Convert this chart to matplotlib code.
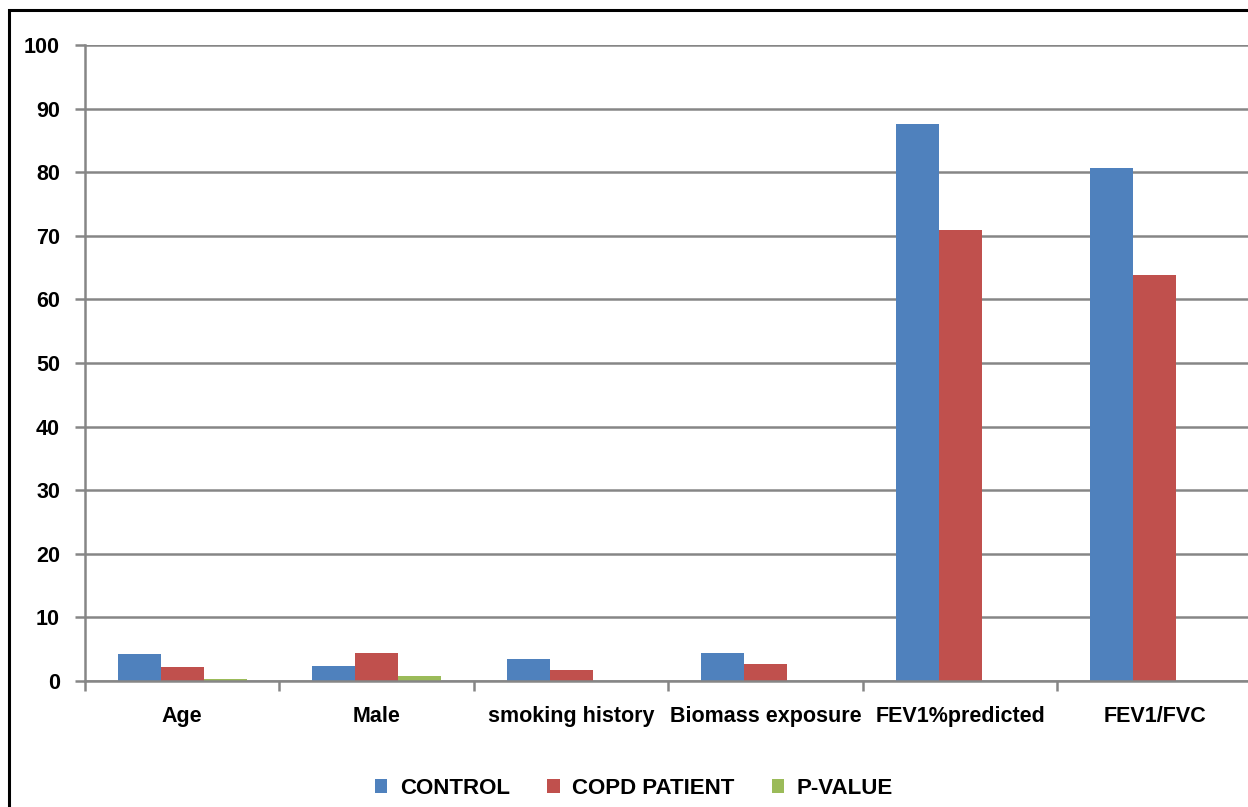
import numpy as np
import matplotlib.pyplot as plt
from matplotlib.patches import Rectangle

categories = ['Age', 'Male', 'smoking history', 'Biomass exposure', 'FEV1%predicted', 'FEV1/FVC']
control = [4.25, 2.4, 3.4, 4.4, 87.6, 80.7]
copd = [2.25, 4.35, 1.75, 2.65, 70.9, 63.8]
p_value = [0.25, 0.85, 0, 0, 0, 0]

series_names = ['CONTROL', 'COPD PATIENT', 'P-VALUE']
colors = ['#4F81BD', '#C0504D', '#9BBB59']

plt.rcParams['font.family'] = ['Liberation Sans', 'DejaVu Sans']

fig = plt.figure(figsize=(12.48, 8.07), dpi=100)
ax = fig.add_axes([0.0681, 0.1561, 0.9349, 0.7881])

x = np.arange(len(categories))
w = 0.221
grid_c = '#868686'

for i, vals in enumerate([control, copd, p_value]):
    ax.bar(x + (i - 1) * w, vals, width=w, color=colors[i], label=series_names[i], zorder=3)

ax.set_xlim(-0.5, len(categories) - 0.5)
ax.set_ylim(0, 100)
ax.set_yticks(range(0, 101, 10))
ax.yaxis.grid(True, color=grid_c, linewidth=1.8, zorder=0)

ax.set_xticks(x)
ax.set_xticklabels(categories, fontsize=15.5, fontweight='bold')
ax.set_xticks(np.arange(-0.5, len(categories) + 0.5, 1), minor=True)
ax.tick_params(axis='x', which='major', length=0, pad=18)
ax.tick_params(axis='x', which='minor', length=7, width=1.8, color=grid_c)
ax.tick_params(axis='y', length=7, width=1.8, color=grid_c, labelsize=15.5, pad=11)
for lab in ax.get_yticklabels():
    lab.set_fontweight('bold')

for s in ['top', 'right']:
    ax.spines[s].set_visible(False)
for s in ['left', 'bottom']:
    ax.spines[s].set_color(grid_c)
    ax.spines[s].set_linewidth(1.8)
    ax.spines[s].set_zorder(4)

leg = fig.legend(loc='center', bbox_to_anchor=(0.508, 0.023), ncol=3, frameon=False,
                 prop={'size': 16, 'weight': 'bold'}, handlelength=0.55, handleheight=0.55,
                 handletextpad=0.55, columnspacing=1.7)

# outer chart border
fig.patches.append(Rectangle((9 / 1248, -0.05), 1.1, 1 - 10 / 807 + 0.05, transform=fig.transFigure,
                             fill=False, edgecolor='black', linewidth=2.2))

fig.savefig('out.png', dpi=100)
